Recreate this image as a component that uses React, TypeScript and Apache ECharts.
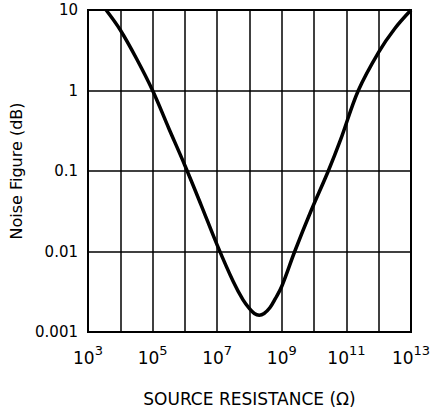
import React, { useEffect, useRef } from "react";
import * as echarts from "echarts";

// Source resistance (Ω) and noise figure (dB)
const sourceResistance = [
  3.63e3, 1e4, 3.16e4, 1e5, 3.16e5, 1e6, 3.16e6, 1e7, 3.16e7, 6.31e7, 1e8, 1.41e8, 2e8,
  2.82e8, 4.27e8, 6.31e8, 1e9, 2.51e9, 7.94e9, 2.75e10, 6.61e10, 2.34e11, 1e12, 3.16e12, 1e13,
];
const noiseFigure = [
  10, 5.65, 2.5, 1.0, 0.34, 0.117, 0.038, 0.012, 0.0042, 0.0025, 0.00195, 0.0017, 0.00162,
  0.0017, 0.002, 0.0026, 0.0037, 0.01, 0.0316, 0.1, 0.245, 1.0, 3.0, 5.9, 10,
];

const xMin = 1e3;
const xMax = 1e13;
const yMin = 0.001;
const yMax = 10;

const xTitle = "SOURCE RESISTANCE (Ω)";
const yTitle = "Noise Figure (dB)";

const FONT = "DejaVu Sans";

export default function App() {
  const ref = useRef<HTMLDivElement>(null);

  useEffect(() => {
    if (!ref.current) return;
    const chart = echarts.init(ref.current, undefined, { renderer: "svg" });
    const points = sourceResistance.map((x, i) => [x, noiseFigure[i]]);
    chart.setOption({
      animation: false,
      backgroundColor: "#fff",
      grid: {
        left: 88,
        right: 23,
        top: 10,
        bottom: 79,
        show: true,
        borderColor: "#000",
        borderWidth: 2,
        backgroundColor: "transparent",
      },
      xAxis: {
        type: "log",
        logBase: 10,
        min: xMin,
        max: xMax,
        interval: 1,
        name: xTitle,
        nameLocation: "middle",
        nameGap: 58,
        nameTextStyle: { fontFamily: FONT, fontSize: 17, color: "#000", verticalAlign: "top" },
        axisLine: { show: true, lineStyle: { color: "#000", width: 2 } },
        axisTick: { show: false },
        splitLine: { show: true, lineStyle: { color: "#000", width: 1.5 } },
        axisLabel: {
          margin: 12,
          color: "#000",
          formatter: (v: number) => {
            const e = Math.round(Math.log10(v));
            return e % 2 !== 0 ? `{b|10}{s|${e}}` : "";
          },
          rich: {
            b: { fontFamily: FONT, fontSize: 17, color: "#000", lineHeight: 22, verticalAlign: "bottom" },
            s: { fontFamily: FONT, fontSize: 13, color: "#000", lineHeight: 14, verticalAlign: "top" },
          },
        },
      },
      yAxis: {
        type: "log",
        logBase: 10,
        min: yMin,
        max: yMax,
        interval: 1,
        name: yTitle,
        nameLocation: "middle",
        nameGap: 56,
        nameTextStyle: { fontFamily: FONT, fontSize: 16, color: "#000" },
        axisLine: { show: true, lineStyle: { color: "#000", width: 2 } },
        axisTick: { show: false },
        splitLine: { show: true, lineStyle: { color: "#000", width: 1.5 } },
        axisLabel: {
          margin: 10,
          color: "#000",
          fontFamily: FONT,
          fontSize: 15,
          formatter: (v: number) => {
            const e = Math.round(Math.log10(v));
            return e >= 0 ? String(Math.pow(10, e)) : "0." + "0".repeat(-e - 1) + "1";
          },
        },
      },
      series: [
        {
          type: "line",
          data: points,
          smooth: 0.35,
          symbol: "none",
          lineStyle: { color: "#000", width: 3.5 },
        },
      ],
    });
    return () => chart.dispose();
  }, []);

  return (
    <div
      ref={ref}
      style={{ position: "absolute", left: 0, top: 0, width: 434, height: 412 }}
    />
  );
}
